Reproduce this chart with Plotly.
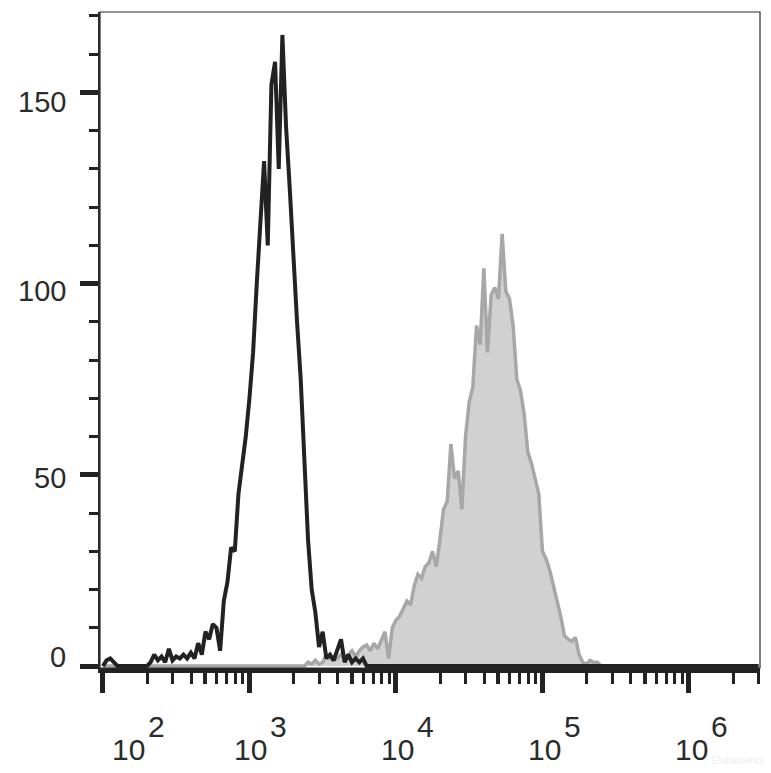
import numpy as np
import plotly.graph_objects as go

# Histogram bin grid (log10 of fluorescence intensity)
BIN_START_LOG = 2.0
BIN_STEP_LOG = 0.025
N_BINS = 180

# Unstained / isotype (black outline) counts, starting at bin 0
black_counts = [
    0, 1.5, 2, 1, 0, 0, 0, 0, 0, 0,
    0, 0, 0, 1, 3, 1.5, 2.5, 1, 4.5, 1.5,
    2.5, 2, 3, 2, 3.5, 2, 6, 3, 9, 7,
    11, 10, 4, 17, 22, 31, 30, 45, 52, 60,
    70, 82, 100, 117, 132, 110, 152, 158, 130, 165,
    141, 125, 106, 90, 75, 55, 33, 20, 14, 5,
    9, 2, 3, 1.5, 4, 7, 1, 3, 1, 2,
    1, 2, 0, 0, 0,
]
black_start = 0

# Stained sample (grey filled) counts, starting at bin 56
gray_counts = [
    1, 0.5, 1.5, 0.5, 1, 3, 2, 1.5, 2, 3,
    2, 3, 4, 2.5, 4, 5, 5.5, 4, 6, 4.5,
    7, 9, 2, 10, 12, 13, 15, 17, 16, 21,
    24, 23, 26, 27, 30, 26, 33, 41, 43, 58,
    49, 51, 41, 60, 69, 73, 89, 84, 104, 82,
    97, 99, 96, 113, 98, 96, 89, 75, 72, 66,
    56, 53, 49, 45, 30, 28, 25, 21, 17, 13,
    8, 7, 6.5, 7.5, 3, 1, 0.5, 1.5, 1, 1,
    0,
]
gray_start = 56

x_major = [1e2, 1e3, 1e4, 1e5, 1e6]
x_labels_exp = ["2", "3", "4", "5", "6"]
y_major = [0, 50, 100, 150]
y_labels = ["0", "50", "100", "150"]

# build full series on the bin grid
log_grid = BIN_START_LOG + BIN_STEP_LOG * np.arange(N_BINS)
x_grid = 10 ** log_grid


def full_series(counts, start):
    arr = np.zeros(N_BINS)
    arr[start:start + len(counts)] = counts
    return arr


black_y = full_series(black_counts, black_start)
gray_y = full_series(gray_counts, gray_start)

INK = "#222222"
TXT = "#2b2b2b"
FONT = "Liberation Sans, Arial, sans-serif"

fig = go.Figure()
fig.add_trace(go.Scatter(
    x=x_grid, y=gray_y, mode="lines", fill="tozeroy",
    fillcolor="#d1d1d1", line=dict(color="#a7a7a7", width=3.5),
    showlegend=False, hoverinfo="skip"))
fig.add_trace(go.Scatter(
    x=x_grid, y=black_y, mode="lines",
    line=dict(color=INK, width=4),
    showlegend=False, hoverinfo="skip"))
# empty trace to carry the overlay axis used for mid-decade ticks
fig.add_trace(go.Scatter(x=[], y=[], xaxis="x2", showlegend=False))

minor_x = [d * 10 ** k for k in range(1, 7) for d in (2, 3, 4, 6, 7, 8, 9)]
mid_x = [5 * 10 ** k for k in range(1, 7)]
minor_y = [v for v in range(10, 171, 10) if v % 50 != 0]

XR = [1.98, 6.485]
# the page body has an 8px margin, so the figure is sized/offset to compensate
fig.update_layout(
    width=763, height=765,
    margin=dict(l=92, r=11, t=4, b=105),
    paper_bgcolor="white", plot_bgcolor="white",
    xaxis=dict(
        type="log", range=XR, showgrid=False, zeroline=False,
        showline=True, linewidth=5, linecolor=INK,
        ticks="outside", tickvals=x_major, ticklen=20, tickwidth=5,
        tickcolor=INK, showticklabels=False,
        minor=dict(ticks="outside", tickvals=minor_x, ticklen=11,
                   tickwidth=3, tickcolor=INK, showgrid=False),
    ),
    xaxis2=dict(
        type="log", range=XR, overlaying="x", anchor="y", side="bottom",
        showgrid=False, zeroline=False, showline=False,
        ticks="outside", tickvals=mid_x, ticklen=15, tickwidth=3.5,
        tickcolor=INK, showticklabels=False,
    ),
    yaxis=dict(
        range=[-0.5, 171], showgrid=False, zeroline=False,
        showline=True, linewidth=1.5, linecolor=TXT,
        ticks="outside", tickvals=y_major, ticklen=18, tickwidth=4.5,
        tickcolor=INK, showticklabels=False,
        minor=dict(ticks="outside", tickvals=minor_y, ticklen=9,
                   tickwidth=3, tickcolor=INK, showgrid=False),
    ),
    shapes=[dict(type="rect", xref="paper", yref="paper", x0=0, x1=1,
                 y0=0, y1=1, line=dict(color=TXT, width=1.2), layer="above")],
)

annotations = []
# y tick labels
y_shift = [9, -3, -7, -10]
for v, lab, ys in zip(y_major, y_labels, y_shift):
    annotations.append(dict(
        x=0, xref="paper", y=v, yref="y", text=lab, showarrow=False,
        xanchor="right", yanchor="middle", xshift=-32, yshift=ys,
        font=dict(family=FONT, size=29, color=TXT)))
# x tick labels: "10" with a raised exponent
x_shift = [26, 1, 2, 2, 3]
for v, e, xs in zip(x_major, x_labels_exp, x_shift):
    lx = np.log10(v)
    annotations.append(dict(
        x=lx, xref="x", y=0, yref="paper", text="10", showarrow=False,
        xanchor="center", yanchor="middle", xshift=xs, yshift=-81,
        font=dict(family=FONT, size=30, color=TXT)))
    annotations.append(dict(
        x=lx, xref="x", y=0, yref="paper", text=e, showarrow=False,
        xanchor="center", yanchor="middle", xshift=xs + 28, yshift=-58,
        font=dict(family=FONT, size=30, color=TXT)))
annotations.append(dict(
    x=1, xref="paper", y=0, yref="paper", text="Elabscience", showarrow=False,
    xanchor="right", yanchor="middle", xshift=8, yshift=-92,
    font=dict(family=FONT, size=10, color="#ececec")))
fig.update_layout(annotations=annotations)

fig.write_html("out.html")
